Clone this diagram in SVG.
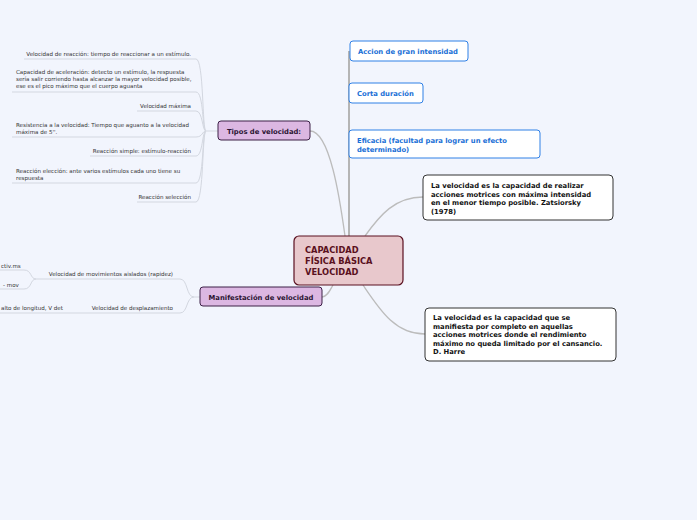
<svg xmlns="http://www.w3.org/2000/svg" width="697" height="520" viewBox="0 0 697 520">
<style>
.bg{fill:#f2f5fd}
.t{font-family:"DejaVu Sans",Verdana,sans-serif;font-size:5.55px;fill:#333}
.lb{font-family:"DejaVu Sans",Verdana,sans-serif;font-weight:bold;font-size:6.8px}
.blue{fill:#fff;stroke:#2f80e6;stroke-width:1}
.blk{fill:#fff;stroke:#333;stroke-width:1}
.pur{fill:#dcb7e2;stroke:#3d2047;stroke-width:1}
.ul{fill:none;stroke:#d3d7e0;stroke-width:1}
.cn{fill:none;stroke:#bcbcbc;stroke-width:1.3}
</style>
<rect class="bg" x="0" y="0" width="697" height="520"/>
<g id="connectors">
  <path class="cn" d="M349,236 L349,51" style="stroke-width:2;stroke:#b5b5b5"/>
  <path class="cn" d="M310,131 C330,131 340,200 345,236"/>
  <path class="cn" d="M365,236 C380,215 395,197 423,197"/>
  <path class="cn" d="M363,285 C380,310 395,334 425,334"/>
  <path class="cn" d="M322,297 C328,296 330,290 333,285"/>
  <path class="ul" d="M218,131 L206,131"/>
  <path class="ul" d="M24,59 L196,59 C204,59 202,131 206,131"/>
  <path class="ul" d="M12,92 L196,92 C204,92 202,131 206,131"/>
  <path class="ul" d="M137,111 L196,111 C203,111 202,131 206,131"/>
  <path class="ul" d="M12,137 L196,137 C203,137 202,131 206,131"/>
  <path class="ul" d="M90,156 L196,156 C203,156 202,131 206,131"/>
  <path class="ul" d="M12,183 L196,183 C204,183 202,131 206,131"/>
  <path class="ul" d="M137,202 L196,202 C204,202 202,131 206,131"/>
  <path class="ul" d="M200,297 L194,297"/>
  <path class="ul" d="M48,279 L180,279 C188,279 186,297 194,297"/>
  <path class="ul" d="M0,313 L180,313 C188,313 186,297 194,297"/>
  <path class="ul" d="M48,279 L36,279 C30,279 32,270 24,270 L0,270"/>
  <path class="ul" d="M36,279 C30,279 32,289 24,289 L0,289"/>
</g>
<g id="center">
  <rect x="294" y="236" width="109" height="49" rx="5" fill="#e8c8cc" stroke="#5a1020" stroke-width="1.2"/>
  <text class="lb" style="font-size:8.3px;fill:#5a1020"><tspan x="305" y="253">CAPACIDAD</tspan><tspan x="305" y="264">FÍSICA BÁSICA</tspan><tspan x="305" y="275">VELOCIDAD</tspan></text>
</g>
<g id="tipos">
  <rect class="pur" x="218" y="121" width="92" height="19" rx="3"/>
  <text class="lb" x="264" y="133.5" text-anchor="middle" style="fill:#2b1533">Tipos de velocidad:</text>
</g>
<g id="manifestacion">
  <rect class="pur" x="200" y="287" width="122" height="19" rx="3"/>
  <text class="lb" x="261" y="299.5" text-anchor="middle" style="fill:#2b1533">Manifestación de velocidad</text>
</g>
<g id="accion">
  <rect class="blue" x="350" y="41" width="118" height="20" rx="3"/>
  <text class="lb" x="358" y="53.5" style="fill:#1a6fd6">Accion de gran intensidad</text>
</g>
<g id="corta">
  <rect class="blue" x="349" y="83" width="74" height="20" rx="3"/>
  <text class="lb" x="357" y="95.5" style="fill:#1a6fd6">Corta duración</text>
</g>
<g id="eficacia">
  <rect class="blue" x="349" y="130" width="191" height="28" rx="3"/>
  <text class="lb" style="fill:#1a6fd6"><tspan x="357" y="143">Eficacia (facultad para lograr un efecto</tspan><tspan x="357" y="151.5">determinado)</tspan></text>
</g>
<g id="def1">
  <rect class="blk" x="423" y="175" width="190" height="45" rx="4"/>
  <text class="lb" style="fill:#111"><tspan x="431" y="188">La velocidad es la capacidad de realizar</tspan><tspan x="431" y="196.5">acciones motrices con máxima intensidad</tspan><tspan x="431" y="205">en el menor tiempo posible. Zatsiorsky</tspan><tspan x="431" y="213.5">(1978)</tspan></text>
</g>
<g id="def2">
  <rect class="blk" x="425" y="308" width="191" height="53" rx="4"/>
  <text class="lb" style="fill:#111"><tspan x="433" y="320">La velocidad es la capacidad que se</tspan><tspan x="433" y="328.5">manifiesta por completo en aquellas</tspan><tspan x="433" y="337">acciones motrices donde el rendimiento</tspan><tspan x="433" y="345.5">máximo no queda limitado por el cansancio.</tspan><tspan x="433" y="354">D. Harre</tspan></text>
</g>
<g id="t1"><text class="t" x="191" y="56" text-anchor="end">Velocidad de reacción: tiempo de reaccionar a un estímulo.</text></g>
<g id="t2"><text class="t"><tspan x="16" y="74">Capacidad de aceleración: detecto un estímulo, la respuesta</tspan><tspan x="16" y="81">sería salir corriendo hasta alcanzar la mayor velocidad posible,</tspan><tspan x="16" y="88">ese es el pico máximo que el cuerpo aguanta</tspan></text></g>
<g id="t3"><text class="t" x="191" y="107.5" text-anchor="end">Velocidad máxima</text></g>
<g id="t4"><text class="t"><tspan x="16" y="127">Resistencia a la velocidad: Tiempo que aguanto a la velocidad</tspan><tspan x="16" y="134">máxima de 5''.</tspan></text></g>
<g id="t5"><text class="t" x="191" y="152.5" text-anchor="end">Reacción simple: estímulo-reacción</text></g>
<g id="t6"><text class="t"><tspan x="16" y="173">Reacción elección: ante varios estímulos cada uno tiene su</tspan><tspan x="16" y="179.5">respuesta</tspan></text></g>
<g id="t7"><text class="t" x="191" y="198.5" text-anchor="end">Reacción selección</text></g>
<g id="m1"><text class="t" x="173" y="276" text-anchor="end">Velocidad de movimientos aislados (rapidez)</text></g>
<g id="m2"><text class="t" x="173" y="310" text-anchor="end">Velocidad de desplazamiento</text></g>
<g id="m3"><text class="t" x="1" y="310">alto de longitud, V det</text></g>
<g id="m4"><text class="t" x="1" y="267.5">ctiv.ms</text></g>
<g id="m5"><text class="t" x="3" y="286.5">- mov</text></g>
</svg>
